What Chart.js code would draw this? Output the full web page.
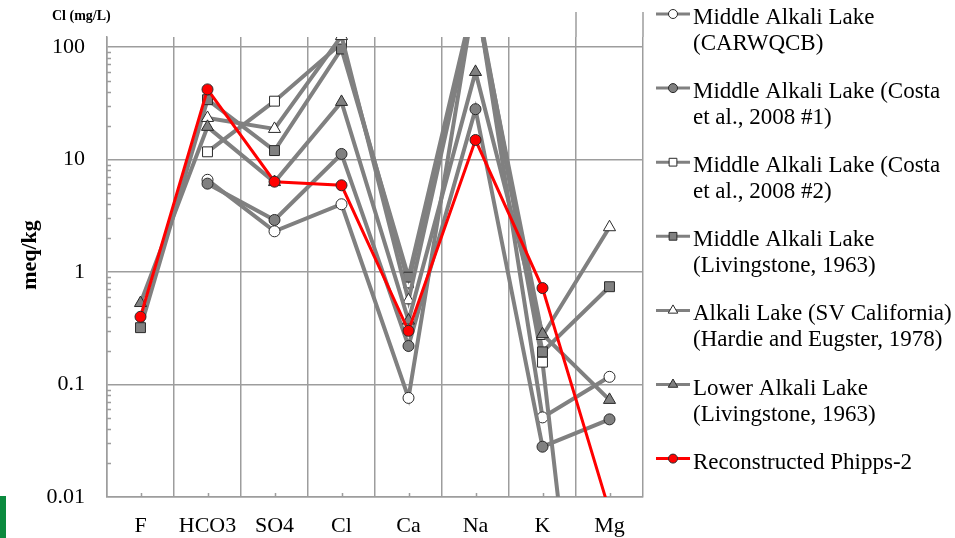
<!DOCTYPE html>
<html>
<head>
<meta charset="utf-8">
<script src="https://cdn.jsdelivr.net/npm/chart.js@4.4.0/dist/chart.umd.min.js"></script>
<style>
  html, body { margin: 0; padding: 0; background: #ffffff; }
  #wrap { position: relative; width: 955px; height: 538px; overflow: hidden; }
  #accent { position: absolute; left: 0; top: 496px; width: 6px; height: 42px; background: #0b8a3e; }
</style>
</head>
<body>
<div id="wrap">
  <canvas id="chart" width="955" height="538"></canvas>
  <div id="accent"></div>
</div>
<script>
// Major ions, in Schoeller-diagram order
const ions = ['F', 'HCO3', 'SO4', 'Cl', 'Ca', 'Na', 'K', 'Mg'];
const yTicks = [0.01, 0.1, 1, 10, 100];

// Concentrations in meq/kg (null = not reported)
const carwqcb           = [null, 6.6, 2.3, 4.0, 0.076, 320, 0.051, 0.117];
const costa2008no1      = [null, 6.1, 2.9, 11.2, 0.22, 28, 0.028, 0.049];
const costa2008no2      = [null, 11.7, 33, 108, 0.8, 280, 0.158, 0.000001];
const livingstoneMiddle = [0.32, 34, 12, 96, 0.9, 300, 0.195, 0.74];
const svCalifornia      = [null, 23.4, 18.7, 125, 0.56, 260, 0.27, 2.5];
const livingstoneLower  = [0.53, 19.5, 6.3, 32.5, 0.37, 60, 0.28, 0.073];
const phipps2           = [0.40, 42, 6.35, 5.9, 0.30, 14.9, 0.72, 0.0075];

const legendLines = [
  ['Middle Alkali Lake', '(CARWQCB)'],
  ['Middle Alkali Lake (Costa', 'et al., 2008 #1)'],
  ['Middle Alkali Lake (Costa', 'et al., 2008 #2)'],
  ['Middle Alkali Lake', '(Livingstone, 1963)'],
  ['Alkali Lake (SV California)', '(Hardie and Eugster, 1978)'],
  ['Lower Alkali Lake', '(Livingstone, 1963)'],
  ['Reconstructed Phipps-2']
];

const GREY = '#808080';
const RED = '#ff0000';
const GRID = '#9d9d9d';
const SERIF = '"Liberation Serif", "Times New Roman", serif';

const seriesDefs = [
  { data: carwqcb,           shape: 'circle',   fill: '#ffffff' },
  { data: costa2008no1,      shape: 'circle',   fill: GREY },
  { data: costa2008no2,      shape: 'rect',     fill: '#ffffff' },
  { data: livingstoneMiddle, shape: 'rect',     fill: GREY },
  { data: svCalifornia,      shape: 'triangle', fill: '#ffffff' },
  { data: livingstoneLower,  shape: 'triangle', fill: GREY },
  { data: phipps2,           shape: 'circle',   fill: RED, red: true }
];

const datasets = seriesDefs.map((s, i) => ({
  label: legendLines[i].join(' '),
  data: s.data,
  borderColor: s.red ? RED : GREY,
  borderWidth: s.red ? 3 : 4,
  pointStyle: s.shape,
  pointRadius: s.shape === 'circle' ? 5.5 : 7,
  pointBackgroundColor: s.fill,
  pointBorderColor: '#2a2a2a',
  pointBorderWidth: 1,
  tension: 0,
  // later series are painted over earlier ones
  order: seriesDefs.length - i
}));

// Axis decorations: minor log ticks, category tick marks, titles, legend
const decorations = {
  id: 'decorations',
  afterDraw(chart) {
    const { ctx, chartArea, scales } = chart;
    const x = scales.x, y = scales.y;
    ctx.save();
    ctx.strokeStyle = GRID;
    ctx.lineWidth = 1.5;
    ctx.beginPath();
    for (let d = 0.01; d < 200; d *= 10) {
      for (let k = 2; k <= 9; k++) {
        const v = d * k;
        if (v > y.max) continue;
        const py = Math.round(y.getPixelForValue(v)) + 0.5;
        ctx.moveTo(chartArea.left, py);
        ctx.lineTo(chartArea.left + 4, py);
      }
    }
    ions.forEach((_, i) => {
      const px = Math.round(x.getPixelForValue(i)) + 0.5;
      ctx.moveTo(px, chartArea.bottom);
      ctx.lineTo(px, chartArea.bottom - 4);
    });
    // frame lines rising above the plot on the right
    const kMg = (x.getPixelForValue(6) + x.getPixelForValue(7)) / 2;
    [kMg, chartArea.right].forEach(px => {
      ctx.moveTo(Math.round(px), 12);
      ctx.lineTo(Math.round(px), chartArea.top);
    });
    ctx.stroke();

    ctx.fillStyle = '#000';
    ctx.font = 'bold 14px ' + SERIF;
    ctx.textAlign = 'left';
    ctx.textBaseline = 'alphabetic';
    ctx.fillText('Cl (mg/L)', 52, 20);

    ctx.save();
    ctx.translate(30, 255);
    ctx.rotate(-Math.PI / 2);
    ctx.font = 'bold 22px ' + SERIF;
    ctx.textAlign = 'center';
    ctx.textBaseline = 'middle';
    ctx.fillText('meq/kg', 0, 0);
    ctx.restore();

    // legend
    chart.data.datasets.forEach((ds, i) => {
      const ly = 14 + i * 74.1;
      ctx.strokeStyle = ds.borderColor;
      ctx.lineWidth = 3;
      ctx.beginPath();
      ctx.moveTo(656, ly);
      ctx.lineTo(690, ly);
      ctx.stroke();
      ctx.fillStyle = ds.pointBackgroundColor;
      ctx.strokeStyle = ds.pointBorderColor;
      ctx.lineWidth = 1;
      Chart.helpers.drawPoint(ctx, {
        pointStyle: ds.pointStyle,
        radius: ds.pointStyle === 'circle' ? 4.5 : 5.5,
        rotation: 0,
        borderWidth: 1
      }, 673, ly);
      ctx.fillStyle = '#000';
      ctx.font = '23px ' + SERIF;
      ctx.textAlign = 'left';
      ctx.textBaseline = 'middle';
      legendLines[i].forEach((t, j) => ctx.fillText(t, 693, ly + 4 + j * 26));
    });
    ctx.restore();
  }
};

new Chart(document.getElementById('chart'), {
  type: 'line',
  data: { labels: ions, datasets },
  options: {
    responsive: false,
    animation: false,
    devicePixelRatio: 1,
    layout: { padding: { left: 0, top: 37, right: 312, bottom: 0 } },
    plugins: { legend: { display: false }, tooltip: { enabled: false } },
    scales: {
      x: {
        type: 'category',
        offset: true,
        grid: { offset: true, color: GRID, lineWidth: 1.5, drawTicks: false },
        border: { color: GRID, width: 1.5 },
        ticks: { color: '#000', font: { family: SERIF, size: 22 }, padding: 16, maxRotation: 0, autoSkip: false },
        afterFit: s => { s.height = 41; }
      },
      y: {
        type: 'logarithmic',
        min: 0.01,
        max: 122.7,
        afterBuildTicks: s => { s.ticks = yTicks.map(v => ({ value: v })); },
        grid: { color: GRID, lineWidth: 1.5, drawTicks: false },
        border: { color: GRID, width: 1.5 },
        ticks: { color: '#000', font: { family: SERIF, size: 22 }, padding: 22, callback: v => String(v) },
        afterFit: s => { s.width = 107; }
      }
    }
  },
  plugins: [decorations]
});
</script>
</body>
</html>
